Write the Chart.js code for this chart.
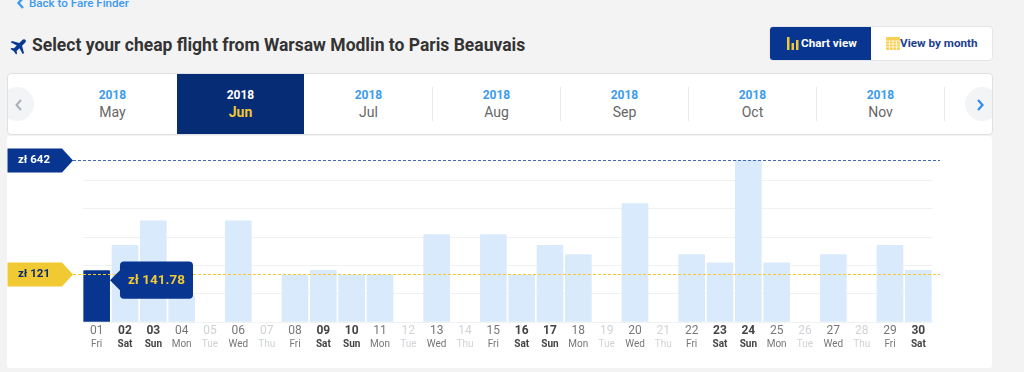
<!DOCTYPE html>
<html>
<head>
<meta charset="utf-8">
<title>Fare chart</title>
<script src="https://cdn.jsdelivr.net/npm/chart.js@4"></script>
<style>
html, body { margin: 0; padding: 0; }
body { width: 1024px; height: 372px; overflow: hidden; position: relative; background: #f3f3f3; font-family: Roboto, sans-serif; }
.abs { position: absolute; }
.back { left: 29px; top: -4px; font-size: 11.6px; font-weight: 500; line-height: 14px; color: #3b9af0; }
h1 { position: absolute; left: 32px; top: 34px; margin: 0; font-size: 17.5px; line-height: 22px; font-weight: 700; color: #333; white-space: nowrap; }
.btns { left: 769px; top: 26px; width: 222px; height: 33px; background: #fff; border: 1px solid #e4e6ea; border-radius: 4px; overflow: hidden; font-size: 11.7px; font-weight: 700; line-height: 33px; }
.btn-a { position: absolute; left: 0; top: 0; width: 101px; height: 33px; background: #073590; color: #fff; }
.btn-a span { position: absolute; left: 31px; }
.btn-b { position: absolute; left: 101px; top: 0; width: 121px; height: 33px; color: #1d3f8f; }
.btn-b span { position: absolute; left: 29px; }
.tabs { left: 7px; top: 73px; width: 984px; height: 60px; background: #fff; border: 1px solid #dde1e6; border-radius: 4px; overflow: hidden; }
.tab { position: absolute; top: 0; width: 127px; height: 60px; text-align: center; }
.tab b { display: block; margin-top: 14px; font-size: 12px; line-height: 14px; font-weight: 700; color: #3b9af0; }
.tab i { display: block; margin-top: 1px; font-style: normal; font-size: 14px; line-height: 18px; color: #666; }
.tab.sel { background: #062c75; }
.tab.sel b { color: #fff; }
.tab.sel i { color: #f1c933; font-weight: 700; }
.sep { position: absolute; top: 13px; width: 1px; height: 34px; background: #e8eaed; }
.arrow { position: absolute; top: 13px; width: 34px; height: 34px; border-radius: 17px; background: #f3f4f6; font-size: 0; }
.card { left: 7px; top: 136px; width: 985px; height: 232px; background: #fff; border-radius: 3px; }
canvas { position: absolute; left: 0; top: 0; pointer-events: none; }
</style>
</head>
<body>
<svg class="abs" style="left:16px;top:-3px" width="9" height="12" viewBox="0 0 9 12"><path d="M7 1 L2.5 6 L7 11" fill="none" stroke="#3b9af0" stroke-width="2.4"/></svg>
<div class="abs back">Back to Fare Finder</div>
<svg class="abs" style="left:9px;top:38px" width="18" height="18" viewBox="0 0 24 24"><path fill="#0b3a94" d="M22 2.5c-1.300-1.200-3.400-.8-4.600.4l-3.700 3.700L4 4 2.300 5.700l8 4.300-3.700 3.800-3.300-.5L2 14.600l4.400 2.900L9.400 22l1.300-1.300-.5-3.300 3.800-3.700 4.300 8 1.700-1.700-2.600-9.700 3.700-3.700c1.200-1.200 2-3.100.9-4.400z"/></svg>
<h1>Select your cheap flight from Warsaw Modlin to Paris Beauvais</h1>

<div class="abs btns">
  <div class="btn-a">
    <svg class="abs" style="left:17px;top:10px" width="12" height="13"><rect x="0" y="0" width="2.500" height="13" fill="#f1c933"/><rect x="4.500" y="6" width="2.500" height="7" fill="#f1c933"/><rect x="9" y="3" width="2.500" height="10" fill="#f1c933"/></svg>
    <span>Chart view</span>
  </div>
  <div class="btn-b">
    <svg class="abs" style="left:15px;top:9px" width="14" height="14"><rect x="0" y="1" width="14" height="13" rx="1" fill="#f7d154"/><path d="M0 5H14M0 8H14M0 11H14M3.500 5V14M7 5V14M10.500 5V14" stroke="#fff" stroke-width="0.700"/></svg>
    <span>View by month</span>
  </div>
</div>

<div class="abs tabs" id="tabs"></div>
<div class="abs card"></div>
<canvas id="fareChart" width="1024" height="372"></canvas>

<script>
const tabYears = ["2018", "2018", "2018", "2018", "2018", "2018", "2018"];
const tabMonths = ["May", "Jun", "Jul", "Aug", "Sep", "Oct", "Nov"];
const selectedTab = 1;

const days = ["01", "02", "03", "04", "05", "06", "07", "08", "09", "10", "11", "12", "13", "14", "15",
    "16", "17", "18", "19", "20", "21", "22", "23", "24", "25", "26", "27", "28", "29", "30"];
const weekdays = ["Fri", "Sat", "Sun", "Mon", "Tue", "Wed", "Thu", "Fri", "Sat", "Sun", "Mon", "Tue", "Wed", "Thu", "Fri",
    "Sat", "Sun", "Mon", "Tue", "Wed", "Thu", "Fri", "Sat", "Sun", "Mon", "Tue", "Wed", "Thu", "Fri", "Sat"];
// price per day in zl, null = no flight that day
const prices = [141.78, 256, 367, 28, null, 367, null, 121, 142, 121, 121, null, 305, null, 305,
    121, 256, 214, null, 446, null, 214, 177, 642, 177, null, 214, null, 256, 142];
const yTicks = [-95, 34, 163, 292, 421, 550];
const maxPrice = 642;
const minPrice = 121;
const selectedDay = 0;

// month strip above the chart
const tabs = document.getElementById("tabs");
tabMonths.forEach((month, i) => {
    const left = 41 + i * 128;
    const tab = document.createElement("div");
    tab.className = "tab" + (i === selectedTab ? " sel" : "");
    tab.style.left = left + "px";
    tab.innerHTML = "<b>" + tabYears[i] + "</b><i>" + month + "</i>";
    tabs.appendChild(tab);
    if (i > 1) {
        const sep = document.createElement("div");
        sep.className = "sep";
        sep.style.left = (left + 127) + "px";
        tabs.appendChild(sep);
    }
});
tabs.insertAdjacentHTML("beforeend",
    '<div class="arrow" style="left:-8px"></div>' +
    '<svg class="abs" style="left:6px;top:25px" width="9" height="12"><path d="M7 1 L2.500 6 L7 11" fill="none" stroke="#a9b0b8" stroke-width="2"/></svg>' +
    '<div class="arrow" style="left:957px"></div>' +
    '<svg class="abs" style="left:968px;top:25px" width="9" height="12"><path d="M2 1 L6.500 6 L2 11" fill="none" stroke="#2f8fe8" stroke-width="2.200"/></svg>');

// dashed price line with the flag on its left
const priceFlags = {
    id: "priceFlags",
    afterDatasetsDraw(chart) {
        const ctx = chart.ctx;
        const y = chart.scales.y;
        const flags = [
            { value: maxPrice, color: "#073590", line: "#3f68bc", text: "#fff" },
            { value: minPrice, color: "#f1c933", line: "#f6c82c", text: "#0b2a6b" },
        ];
        flags.forEach((flag) => {
            const py = Math.floor(y.getPixelForValue(flag.value)) + 0.5;
            ctx.save();
            ctx.setLineDash([3, 2]);
            ctx.lineWidth = 1;
            ctx.strokeStyle = flag.line;
            ctx.beginPath();
            ctx.moveTo(73, py);
            ctx.lineTo(940, py);
            ctx.stroke();
            ctx.setLineDash([]);
            ctx.fillStyle = flag.color;
            ctx.beginPath();
            ctx.moveTo(7.5, py - 12);
            ctx.lineTo(62, py - 12);
            ctx.lineTo(73, py);
            ctx.lineTo(62, py + 12);
            ctx.lineTo(7.5, py + 12);
            ctx.closePath();
            ctx.fill();
            ctx.fillStyle = flag.text;
            ctx.font = "700 11.5px Roboto";
            ctx.textAlign = "center";
            ctx.textBaseline = "middle";
            ctx.fillText("zł " + flag.value, 34, py);
            ctx.restore();
        });
    },
};

Chart.Tooltip.positioners.besideBar = function (items) {
    if (!items.length) {
        return false;
    }
    const bar = items[0].element;
    return { x: bar.x + bar.width / 2, y: bar.y + 10 };
};

function dayColor(i, normal) {
    if (prices[i] === null) {
        return "#cfd2d6";
    }
    const weekend = weekdays[i] === "Sat" || weekdays[i] === "Sun";
    return weekend ? "#444" : normal;
}

function dayFont(i, size) {
    const weekend = weekdays[i] === "Sat" || weekdays[i] === "Sun";
    return { family: "Roboto", size: size, weight: weekend ? "700" : "400" };
}

const fareChart = new Chart(document.getElementById("fareChart"), {
    type: "bar",
    plugins: [priceFlags],
    data: {
        labels: days,
        datasets: [
            {
                data: prices,
                base: yTicks[0],
                backgroundColor: prices.map((p, i) => (i === selectedDay ? "#073590" : "#d9eafd")),
                barPercentage: 0.94,
                categoryPercentage: 1,
                borderRadius: 1,
                borderSkipped: "bottom",
            },
        ],
    },
    options: {
        responsive: false,
        animation: false,
        events: [],
        layout: {
            padding: { left: 82.5, right: 91.5, top: 160, bottom: 21.3 },
        },
        scales: {
            x: {
                position: "bottom",
                grid: { display: false, drawTicks: false },
                border: { display: false },
                ticks: {
                    autoSkip: false,
                    maxRotation: 0,
                    padding: 1,
                    color: (c) => dayColor(c.index, "#777"),
                    font: (c) => dayFont(c.index, 12),
                },
            },
            x2: {
                type: "category",
                position: "bottom",
                labels: weekdays,
                grid: { display: false, drawTicks: false },
                border: { display: false },
                ticks: {
                    autoSkip: false,
                    maxRotation: 0,
                    padding: 0,
                    color: (c) => dayColor(c.index, "#777"),
                    font: (c) => dayFont(c.index, 10),
                },
            },
            y: {
                min: yTicks[0],
                max: maxPrice,
                afterBuildTicks: (axis) => {
                    axis.ticks = yTicks.map((v) => ({ value: v }));
                },
                grid: { color: "#f1f1f1", drawTicks: false },
                border: { display: false },
                ticks: { display: false },
            },
        },
        plugins: {
            legend: { display: false },
            title: { display: false },
            tooltip: {
                enabled: true,
                position: "besideBar",
                xAlign: "left",
                yAlign: "center",
                displayColors: false,
                backgroundColor: "#073590",
                bodyColor: "#f1c933",
                bodyFont: { family: "Roboto", size: 13.5, weight: "700" },
                padding: { x: 8, y: 10.5 },
                caretSize: 10,
                caretPadding: 0,
                cornerRadius: 4,
                callbacks: {
                    title: () => "",
                    label: (item) => "zł " + item.raw.toFixed(2),
                },
            },
        },
    },
});

fareChart.tooltip.setActiveElements([{ datasetIndex: 0, index: selectedDay }], { x: 0, y: 0 });
fareChart.update();
</script>
</body>
</html>
